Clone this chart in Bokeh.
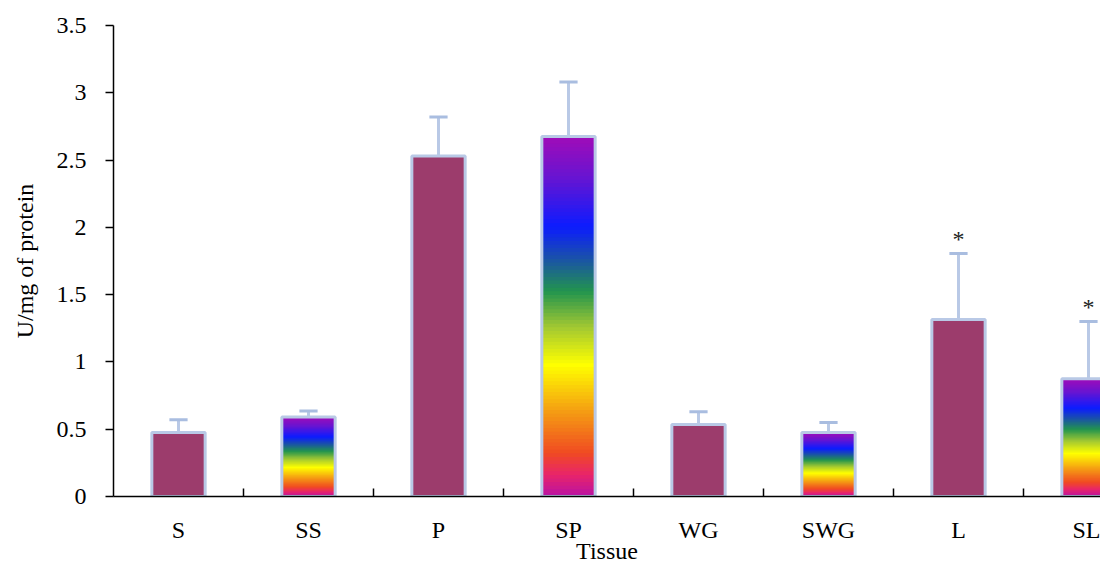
from bokeh.plotting import figure
from bokeh.models import Range1d, FixedTicker, ColumnDataSource
from bokeh.embed import file_html
from bokeh.resources import INLINE
from bokeh.core.properties import value

# ---- data ----
tissues = ["S", "SS", "P", "SP", "WG", "SWG", "L", "SL"]
activity = [0.475, 0.59, 2.53, 2.675, 0.535, 0.475, 1.315, 0.875]
error = [0.095, 0.045, 0.29, 0.405, 0.095, 0.075, 0.49, 0.425]
rainbow_fill = [False, True, False, True, False, True, False, True]
significant = [False, False, False, False, False, False, True, True]
y_ticks = [0, 0.5, 1, 1.5, 2, 2.5, 3, 3.5]
y_tick_labels = ["0", "0.5", "1", "1.5", "2", "2.5", "3", "3.5"]

# ---- style ----
FONT = "'Liberation Serif', 'Times New Roman', serif"
BAR_COLOR = "#9c3c6c"
EDGE = "#b9c9e6"
BAR_W = 0.41
stops = [(0.0, "#b812a4"), (0.06, "#e8246a"), (0.12, "#f04a22"), (0.24, "#f5a012"),
         (0.365, "#ffff00"), (0.47, "#a2c832"), (0.57, "#22944e"), (0.66, "#1a52a8"),
         (0.75, "#0c1cff"), (0.89, "#6a14d0"), (1.0, "#a00cb8")]

def hex2rgb(h):
    return tuple(int(h[i:i + 2], 16) for i in (1, 3, 5))

def grad(f):
    for (f0, c0), (f1, c1) in zip(stops[:-1], stops[1:]):
        if f0 <= f <= f1:
            t = (f - f0) / (f1 - f0)
            a, b = hex2rgb(c0), hex2rgb(c1)
            return "#%02x%02x%02x" % tuple(round(a[k] + (b[k] - a[k]) * t) for k in range(3))
    return stops[-1][1]

n = len(tissues)
xs = [i + 0.5 for i in range(n)]
W, H = 1100, 566
LEFT, TOP, BOTTOM = 113, 25, 70
x_max = (W - LEFT) / 130.0

p = figure(width=W, height=H, output_backend="svg", toolbar_location=None,
           x_range=Range1d(0, x_max), y_range=Range1d(0, 3.5),
           min_border_left=LEFT, min_border_right=0, min_border_top=TOP, min_border_bottom=BOTTOM)
p.xgrid.visible = False
p.ygrid.visible = False
p.outline_line_color = None

# plain bars
plain = ColumnDataSource(dict(
    left=[x - BAR_W / 2 for x, r in zip(xs, rainbow_fill) if not r],
    right=[x + BAR_W / 2 for x, r in zip(xs, rainbow_fill) if not r],
    top=[v for v, r in zip(activity, rainbow_fill) if not r]))
p.quad(left="left", right="right", bottom=0, top="top", source=plain,
       fill_color=BAR_COLOR, line_color=None)

# rainbow bars built from thin overlapping slices
N = 100
L, R, B, T, C = [], [], [], [], []
for x, v, r in zip(xs, activity, rainbow_fill):
    if not r:
        continue
    for k in range(N):
        L.append(x - BAR_W / 2); R.append(x + BAR_W / 2)
        B.append(v * k / N); T.append(v * min(k + 3, N) / N)
        C.append(grad((k + 0.5) / N))
p.quad(left=L, right=R, bottom=B, top=T, fill_color=C, line_color=None)

# bar borders
p.quad(left=[x - BAR_W / 2 for x in xs], right=[x + BAR_W / 2 for x in xs],
       bottom=0, top=activity, fill_color=None, line_color=EDGE, line_width=3)

# error bars
tops = [v + e for v, e in zip(activity, error)]
p.segment(x0=xs, x1=xs, y0=activity, y1=tops, line_color=EDGE, line_width=3)
p.segment(x0=[x - 0.07 for x in xs], x1=[x + 0.07 for x in xs], y0=tops, y1=tops,
          line_color="#a9bde0", line_width=3)

# significance marks
sx = [x for x, s in zip(xs, significant) if s]
sy = [t for t, s in zip(tops, significant) if s]
p.text(x=sx, y=sy, text=["*"] * len(sx), text_align="center", text_baseline="bottom",
       y_offset=-2, text_font=value(FONT), text_font_size="24px", text_color="#222222")

# axes
p.xaxis.ticker = FixedTicker(ticks=xs, minor_ticks=list(range(1, n)))
p.xaxis.major_label_overrides = {x: t for x, t in zip(xs, tissues)}
p.xaxis.major_tick_in = 0
p.xaxis.major_tick_out = 0
p.xaxis.minor_tick_in = 8
p.xaxis.minor_tick_out = 0
p.xaxis.minor_tick_line_color = "black"
p.xaxis.minor_tick_line_width = 1.5
p.xaxis.major_label_standoff = 20
p.xaxis.axis_label = "Tissue"
p.xaxis.axis_label_standoff = -8

p.yaxis.ticker = FixedTicker(ticks=y_ticks)
p.yaxis.major_label_overrides = dict(zip(y_ticks, y_tick_labels))
p.yaxis.major_tick_in = 0
p.yaxis.major_tick_out = 8
p.yaxis.minor_tick_line_color = None
p.yaxis.major_label_standoff = 19
p.yaxis.axis_label = "U/mg of protein"
p.yaxis.axis_label_standoff = 16

for ax in (p.xaxis, p.yaxis):
    ax.axis_line_color = "black"
    ax.axis_line_width = 1.5
    ax.major_tick_line_color = "black"
    ax.major_tick_line_width = 1.5
    ax.major_label_text_font = FONT
    ax.major_label_text_font_size = "24px"
    ax.major_label_text_color = "black"
    ax.axis_label_text_font = FONT
    ax.axis_label_text_font_size = "24px"
    ax.axis_label_text_font_style = "normal"
    ax.axis_label_text_color = "black"

open("out.html", "w").write(file_html(p, INLINE))
